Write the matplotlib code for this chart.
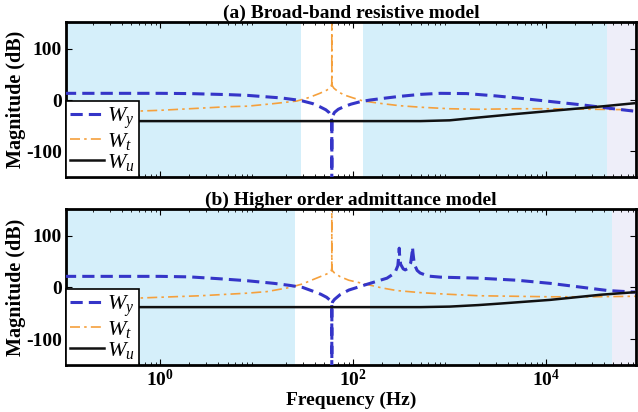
import matplotlib
matplotlib.use('Agg')
import matplotlib.pyplot as plt
import numpy as np

# fonts: bold serif everywhere, italic serif for the W labels
plt.rcParams['font.family'] = 'serif'
plt.rcParams['font.serif'] = ['Liberation Serif', 'DejaVu Serif']
plt.rcParams['font.weight'] = 'bold'
plt.rcParams['mathtext.fontset'] = 'custom'
plt.rcParams['mathtext.rm'] = 'Liberation Serif:normal'
plt.rcParams['mathtext.it'] = 'Liberation Serif:italic:normal'
plt.rcParams['mathtext.bf'] = 'Liberation Serif:bold'
plt.rcParams['axes.unicode_minus'] = False

# (a) broad-band resistive model
f_ya = [0.1, 1, 2, 5, 8, 12, 18, 25, 30, 38, 45, 52, 56, 58.5, 59.6, 59.95, 60,
        60.05, 60.4, 61.5, 64, 70, 80, 95, 120, 150, 200, 300, 500, 800, 1500,
        3000, 5000, 1e4, 2.5e4, 5e4, 8.5e4]
wy_a = [13, 13, 12.5, 10.5, 9, 6.5, 4, 0.5, -2, -7, -13, -19, -24, -30, -36, -42, -300,
        -42, -36, -30, -24, -18, -13, -8, -3, 0, 3, 7, 11, 13, 12.5,
        8, 4, -2, -10, -17, -22]
f_ta = [0.1, 0.5, 1, 2, 5, 8, 15, 26, 35, 45, 53, 57, 59, 59.7, 59.95, 60,
        60.05, 60.3, 61, 63, 70, 80, 100, 127, 200, 300, 500, 1000, 2000, 5000,
        1e4, 3e4, 8.5e4]
wt_a = [-25, -22, -20, -17, -13, -12, -7, -2, 5, 13, 19, 23, 27, 30, 33, 300,
        33, 30, 27, 23, 16, 10, 4, -2, -7, -11, -14, -17, -18, -17,
        -17, -18, -19]
f_ua = [0.1, 1, 10, 100, 500, 1000, 2000, 5000, 1e4, 2e4, 4e4, 8.5e4]
wu_a = [-41, -41, -41, -41, -41, -39.5, -34, -27, -22, -17, -12, -6]

# (b) higher order admittance model
f_yb = [0.1, 1, 2, 4, 8, 15, 22, 30, 38, 46, 53, 57, 59, 59.7, 59.95, 60,
        60.05, 60.3, 61, 64, 73, 90, 138, 224, 270, 290, 298, 300, 302, 310, 330,
        346, 370, 395, 408, 412, 416, 430, 460, 494, 600, 800, 2000, 5000,
        1.1e4, 2e4, 4.4e4, 8.5e4]
wy_b = [21.5, 21.5, 20.5, 17, 13, 8, 4, 0, -7, -13, -19, -24, -28, -32, -36, -300,
        -36, -32, -28, -23, -14, -5, 6, 18, 28, 42, 65, 76, 65, 45, 36,
        34, 37, 48, 68, 78, 68, 45, 33, 28, 22, 20, 18, 14,
        8, 2, -6, -9]
f_tb = [0.1, 0.5, 2.6, 8, 12.7, 22, 30, 38, 47, 53, 57, 59, 59.7, 59.95, 60,
        60.05, 60.3, 61, 64, 73, 90, 138, 200, 284, 500, 935, 2000, 1.1e4, 3e4, 8.5e4]
wt_b = [-22, -21, -16, -11, -8, 0, 7, 15, 22, 26, 29, 32, 35, 38, 300,
        38, 35, 32, 28, 21, 14, 6, -1, -6, -10, -13, -16, -18, -18, -17]
f_ub = [0.1, 1, 10, 100, 500, 1000, 2000, 3400, 1.1e4, 3.7e4, 8.5e4]
wu_b = [-38, -38, -38, -38, -38, -37, -34, -31, -24, -14, -9]

# shaded frequency bands: (start, end)
bands_a = [(0.105, 29), (125, 4.3e4)]
fade_a = 4.3e4
bands_b = [(0.105, 25), (150, 4.8e4)]
fade_b = 4.8e4

titles = ['(a) Broad-band resistive model', '(b) Higher order admittance model']
xticks = [1, 100, 1e4]
xticklabels = [r'$\mathbf{10^{0}}$', r'$\mathbf{10^{2}}$', r'$\mathbf{10^{4}}$']

c_y = '#3535c8'
c_t = '#f5a03c'
c_u = '#111111'
c_bg = '#d5effa'
c_fade = '#eeeef9'

fig = plt.figure(figsize=(6.38, 4.12), dpi=100)
ax1 = fig.add_axes([0.1034, 0.570, 0.893, 0.377])
ax2 = fig.add_axes([0.1034, 0.114, 0.893, 0.379])

panels = [
    (ax1, f_ya, wy_a, f_ta, wt_a, f_ua, wu_a, bands_a, fade_a),
    (ax2, f_yb, wy_b, f_tb, wt_b, f_ub, wu_b, bands_b, fade_b),
]

for i, (ax, fy, wy, ft, wt, fu, wu, bands, fade) in enumerate(panels):
    ax.set_xscale('log')
    ax.set_xlim(0.105, 8.5e4)
    ax.set_ylim(-150, 152)
    for b0, b1 in bands:
        ax.axvspan(b0, b1, color=c_bg, lw=0, zorder=0)
    ax.axvspan(fade, 8.5e4, color=c_fade, lw=0, zorder=0)

    ax.plot(fy, wy, color=c_y, lw=2.2, dashes=(4, 2), label=r'$W_y$', zorder=3)
    ax.plot(ft, wt, color=c_t, lw=1.2, dashes=(6, 2.5, 1.5, 2.5), label=r'$W_t$', zorder=2)
    ax.plot(fu, wu, color=c_u, lw=1.8, label=r'$W_u$', zorder=4)

    ax.set_yticks([-100, 0, 100])
    ax.set_yticklabels(['-100', '0', '100'], fontsize=14, fontweight='bold')
    ax.set_xticks(xticks)
    if i == 1:
        ax.set_xticklabels(xticklabels, fontsize=14)
        ax.set_xlabel('Frequency (Hz)', fontsize=14, fontweight='bold', labelpad=1)
    else:
        ax.set_xticklabels([])
    ax.tick_params(which='both', direction='in', top=True, right=True)
    ax.tick_params(which='major', length=4, width=0.8, pad=3)
    ax.tick_params(which='minor', length=2, width=0.6)
    for s in ax.spines.values():
        s.set_linewidth(2)

    ax.set_title(titles[i], fontsize=14, fontweight='bold', pad=2)
    ax.set_ylabel('Magnitude (dB)', fontsize=14.5, fontweight='bold', labelpad=0)

    leg = ax.legend(loc='lower left', borderaxespad=0, fancybox=False,
                    fontsize=16, handlelength=1.5, handletextpad=0.15,
                    labelspacing=0.0, borderpad=0.2, framealpha=1)
    leg.get_frame().set_edgecolor('black')
    leg.get_frame().set_linewidth(1.2)

plt.savefig('out.png', dpi=100, facecolor='white')
plt.close()
